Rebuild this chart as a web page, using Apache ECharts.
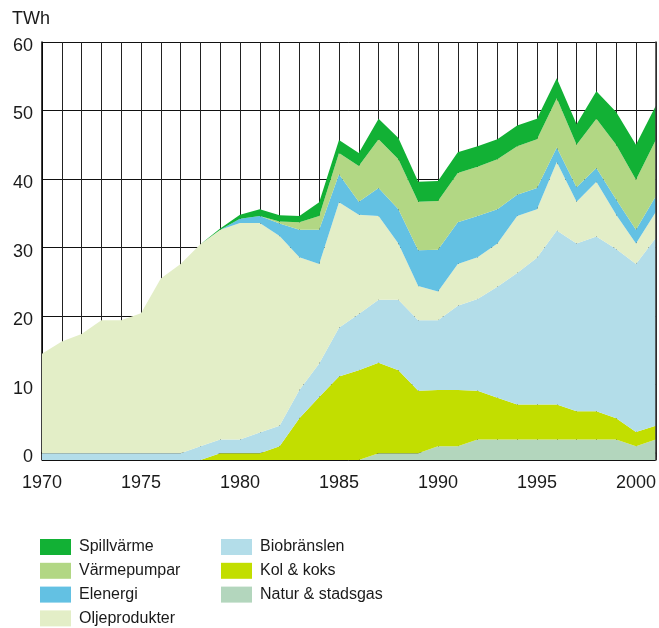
<!DOCTYPE html>
<html>
<head>
<meta charset="utf-8">
<script src="https://cdn.jsdelivr.net/npm/echarts@6/dist/echarts.min.js"></script>
<style>html,body{margin:0;padding:0;background:#fff;}#c{width:659px;height:628px;}</style>
</head>
<body>
<div id="c"></div>
<script>
const years = [];
for (let y = 1970; y <= 2001; y++) years.push(String(y));
const yTickLabels = ['0','10','20','30','40','50','60'];

// TWh per layer (bottom to top)
const natur =  [0,0,0,0,0,0,0,0,0,0,0,0,0,0,0,0,0, 1,1,1,2,2,3,3,3,3,3,3,3,3,2,3];
const kol =    [0,0,0,0,0,0,0,0,0, 1,1,1,2,6.1,9.2,12.2,13.1,13.2,12.1,9.1,8.2,8.2,7.1,6.1,5.1,5.1,5.1,4.1,4.1,3.1,2.1,2.0];
const bio =    [1,1,1,1,1,1,1,1, 2,2,2,3,3,4.1,4.9,7.1,8.2,9.2,10.3,10.3,10.2,12.3,13.4,16.2,19.2,21.4,25.4,24.5,25.5,24.7,24.5,27.4];
const olja =   [14.5,16.3,17.4,19.4,19.4,20.4,25.5,27.6,29.5,30.6,31.6,30.6,27.7,19.4,14.5,18.3,14.5,12.2,8.2,5.0,4.2,6.1,6.1,6.3,8.3,7.1,10.0,6.1,8.0,5.0,3.0,3.8];
const el =     [0,0,0,0,0,0,0,0,0,0, 0.6,1.0,1.8,4.0,5.0,4.1,1.9,4.1,5.0,5.2,6.1,6.1,6.0,5.0,3.1,3.1,2.1,2.1,2.0,2.2,2.0,2.3];
const vp =     [0,0,0,0,0,0,0,0,0,0,0,0, 0.3,1.1,2.0,3.1,5.2,7.1,7.3,7.1,7.1,7.2,7.2,7.3,7.1,7.1,7.2,6.2,7.2,8.0,7.3,8.2];
const spill =  [0,0,0,0,0,0,0,0,0, 0.2,0.6,1.0,0.9,0.9,2.0,1.9,1.9,3.0,3.1,2.9,2.9,3.0,3.0,2.9,3.0,3.0,2.9,3.0,4.0,4.8,5.1,5.0];

const names = ['Natur & stadsgas','Kol & koks','Biobränslen','Oljeprodukter','Elenergi','Värmepumpar','Spillvärme'];
const colors = ['#b3d6bd','#c2de00','#b3dde9','#e3eec7','#63c1e3','#b2d784','#12b135'];
const values = [natur, kol, bio, olja, el, vp, spill];

const FONT = 'Liberation Sans, Arial, sans-serif';
const chart = echarts.init(document.getElementById('c'), null, {renderer: 'canvas'});
const txt = '#1a1a1a';
const series = names.map((n, i) => ({
  name: n,
  type: 'line',
  stack: 'total',
  yAxisIndex: 1,
  data: values[i],
  showSymbol: false,
  symbol: 'none',
  lineStyle: {width: 0},
  itemStyle: {color: colors[i]},
  areaStyle: {color: colors[i], opacity: 1},
  emphasis: {disabled: true}
}));

const legendCommon = {
  orient: 'vertical',
  padding: 0,
  height: 120,
  itemWidth: 31,
  itemHeight: 16,
  itemGap: 7.8,
  icon: 'rect',
  textStyle: {fontSize: 16, color: txt, fontFamily: FONT, padding: [6, 0, 0, 3]}
};

chart.setOption({
  animation: false,
  backgroundColor: '#fff',
  title: {
    text: 'TWh', left: 12, top: 10, padding: 0,
    textStyle: {fontSize: 18, fontWeight: 'normal', color: txt, fontFamily: FONT}
  },
  legend: [
    Object.assign({left: 40, top: 539, data: ['Spillvärme','Värmepumpar','Elenergi','Oljeprodukter']}, legendCommon),
    Object.assign({left: 221, top: 539, data: ['Biobränslen','Kol & koks','Natur & stadsgas']}, legendCommon)
  ],
  grid: {left: 42, right: 1.5, top: 42, bottom: 168, containLabel: false},
  xAxis: {
    type: 'category',
    data: years,
    boundaryGap: false,
    axisLine: {lineStyle: {color: '#000', width: 1.5}},
    axisTick: {show: true, interval: 0, inside: false, length: 4, lineStyle: {color: '#000', width: 1}},
    axisLabel: {interval: 4, margin: 14, fontSize: 18, color: txt, fontFamily: FONT},
    splitLine: {show: true, interval: 0, lineStyle: {color: '#222', width: 1}}
  },
  yAxis: [
    {
      type: 'value',
      min: -1, max: 60, splitNumber: 6,
      position: 'left',
      axisLine: {show: true, lineStyle: {color: '#000', width: 1.5}},
      axisTick: {show: false},
      axisLabel: {
        margin: 9, fontSize: 18, color: txt, fontFamily: FONT,
        formatter: v => (v < 0 || yTickLabels.indexOf(String(v)) < 0 ? '' : '{a|' + v + '}'),
        rich: {a: {fontSize: 18, color: txt, fontFamily: FONT, padding: [8, 0, 0, 0]}}
      },
      splitLine: {show: true, lineStyle: {color: '#111', width: 1}}
    },
    {
      type: 'value',
      min: 0, max: 61,
      position: 'right',
      z: 3,
      axisLine: {show: true, lineStyle: {color: '#333', width: 1.5}},
      axisTick: {show: false},
      axisLabel: {show: false},
      splitLine: {show: false}
    }
  ],
  series: series
});
</script>
</body>
</html>
